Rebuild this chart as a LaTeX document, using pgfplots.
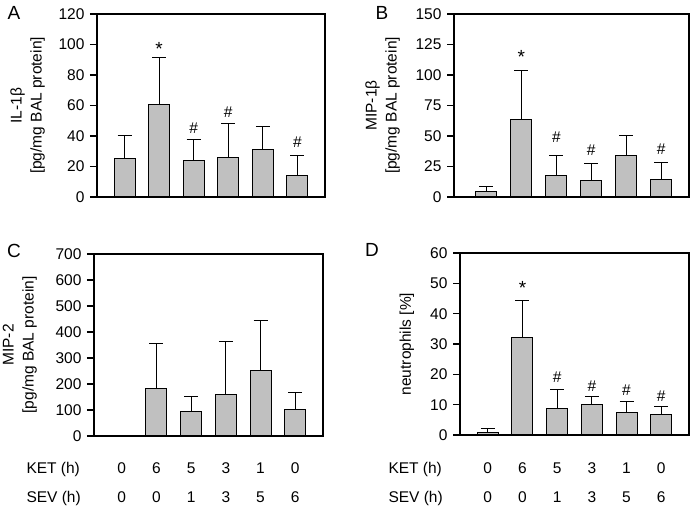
\documentclass[border=0pt]{standalone}
\usepackage{fontspec}
\setmainfont{Liberation Sans}
\usepackage{pgfplots}
\pgfplotsset{compat=1.18}
\usepackage{pgfplotstable}
\definecolor{barfill}{RGB}{192,192,192}

% mean and upper error (SD) per group
\pgfplotstableread{
x y e
1 25.2 14.9
2 60.8 30.5
3 23.9 13.8
4 26.1 21.9
5 30.9 15.1
6 13.8 13.2
}\dataA
\pgfplotstableread{
x y e
1 4.7 4.3
2 63.6 40.3
3 17.5 16.2
4 13.2 13.9
5 33.7 16.5
6 14.5 13.7
}\dataB
\pgfplotstableread{
x y e
2 183.0 171.5
3 96.0 57.6
4 158.7 206.0
5 250.8 194.2
6 101.0 66.6
}\dataC
\pgfplotstableread{
x y e
1 0.9 1.1
2 32.2 12.0
3 8.7 6.3
4 10.0 2.6
5 7.3 3.9
6 6.7 2.7
}\dataD

\newcommand\fnt{\fontsize{15.5bp}{20bp}\selectfont}

\pgfplotsset{
  panel/.style={
    scale only axis, anchor=south west,
    xmin=0.2, xmax=6.8, ymin=0,
    xtick=\empty, ytick pos=left, tick align=outside,
    major tick length=7bp,
    axis line style={line width=1.2bp},
    every tick/.style={line width=1.2bp, black},
    tick label style={font=\fnt},
    yticklabel style={xshift=-2bp},
    /pgf/number format/assume math mode=true,
    label style={font=\fnt},
    ylabel style={align=center, anchor=south, inner sep=0pt},
    clip=false,
  },
  bars/.style={
    ybar, bar width=21bp, fill=barfill, draw=black, line width=1bp,
    error bars/.cd, y dir=plus, y explicit,
    error bar style={line width=1bp, black},
    error mark options={rotate=90, line width=1bp, mark size=7bp, black},
  },
}

\newcommand\mk[3]{\node[font=\fnt] at (axis cs:#1,#2) {#3};}
\newcommand\sig[2]{\node[font=\fontsize{19bp}{20bp}\selectfont, yshift=-4bp] at (axis cs:#1,#2) {*};}
\newcommand\tabrow[7]{%
  \node[font=\fnt, anchor=base] at ([yshift=#1]axis cs:1,0) {#2};
  \node[font=\fnt, anchor=base] at ([yshift=#1]axis cs:2,0) {#3};
  \node[font=\fnt, anchor=base] at ([yshift=#1]axis cs:3,0) {#4};
  \node[font=\fnt, anchor=base] at ([yshift=#1]axis cs:4,0) {#5};
  \node[font=\fnt, anchor=base] at ([yshift=#1]axis cs:5,0) {#6};
  \node[font=\fnt, anchor=base] at ([yshift=#1]axis cs:6,0) {#7};}

\begin{document}
\begin{tikzpicture}
\path[use as bounding box] (0bp,0bp) rectangle (694bp,509bp);

% A
\begin{axis}[panel, at={(97bp,312bp)}, width=228bp, height=183bp,
  ymax=120, ytick={0,20,...,120},
  ylabel={IL-1β\\{}[pg/mg BAL protein]},
  ylabel style={at={(axis description cs:-0.228,0.5)}}]
  \addplot[bars] table[x=x, y=y, y error=e] {\dataA};
  \sig{2}{99.8}
  \mk{3}{45.0}{\#}
  \mk{4}{55.9}{\#}
  \mk{6}{36.2}{\#}
\end{axis}

% B
\begin{axis}[panel, at={(454bp,312bp)}, width=235bp, height=183bp,
  xmin=0.07, ymax=150, ytick={0,25,...,150},
  ylabel={MIP-1β\\{}[pg/mg BAL protein]},
  ylabel style={at={(axis description cs:-0.23,0.5)}}]
  \addplot[bars] table[x=x, y=y, y error=e] {\dataB};
  \sig{2}{117.9}
  \mk{3}{49.4}{\#}
  \mk{4}{38.4}{\#}
  \mk{6}{39.2}{\#}
\end{axis}

% C
\begin{axis}[panel, at={(94bp,73bp)}, width=229bp, height=182bp,
  ymax=700, ytick={0,100,...,700},
  ylabel={MIP-2\\{}[pg/mg BAL protein]},
  ylabel style={at={(axis description cs:-0.249,0.5)}}]
  \addplot[bars] table[x=x, y=y, y error=e] {\dataC};
  \tabrow{-37.5bp}{0}{6}{5}{3}{1}{0}
  \tabrow{-66.5bp}{0}{0}{1}{3}{5}{6}
\end{axis}

% D
\begin{axis}[panel, at={(460bp,74bp)}, width=229bp, height=182bp,
  ymax=60, ytick={0,10,...,60},
  ylabel={neutrophils [\%]},
  ylabel style={at={(axis description cs:-0.2,0.5)}}]
  \addplot[bars] table[x=x, y=y, y error=e] {\dataD};
  \sig{2}{49.9}
  \mk{3}{19.0}{\#}
  \mk{4}{16.1}{\#}
  \mk{5}{14.8}{\#}
  \mk{6}{12.9}{\#}
  \tabrow{-38.5bp}{0}{6}{5}{3}{1}{0}
  \tabrow{-67.5bp}{0}{0}{1}{3}{5}{6}
\end{axis}

% row labels and panel letters
\node[font=\fnt, anchor=base west] at (23bp,35.5bp) {KET (h)};
\node[font=\fnt, anchor=base west] at (23bp,6.5bp) {SEV (h)};
\node[font=\fnt, anchor=base west] at (385bp,35.5bp) {KET (h)};
\node[font=\fnt, anchor=base west] at (385bp,6.5bp) {SEV (h)};
\node[font=\fontsize{19bp}{22bp}\selectfont] at (14bp,496bp) {A};
\node[font=\fontsize{19bp}{22bp}\selectfont] at (382bp,496bp) {B};
\node[font=\fontsize{19bp}{22bp}\selectfont] at (14bp,258bp) {C};
\node[font=\fontsize{19bp}{22bp}\selectfont] at (372bp,259bp) {D};
\end{tikzpicture}
\end{document}
